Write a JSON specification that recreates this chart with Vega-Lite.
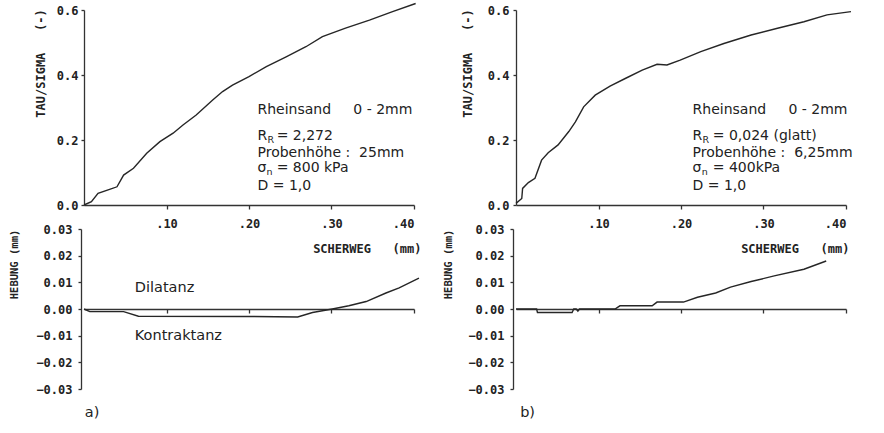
{
  "$schema": "https://vega.github.io/schema/vega-lite/v6.json",
  "background": "white",
  "padding": {"left": 9, "top": 0, "right": 0, "bottom": 0},
  "datasets": {
    "curveA_top": [
      {"s": 0, "t": 0}, {"s": 0.009, "t": 0.01}, {"s": 0.017, "t": 0.036}, {"s": 0.031, "t": 0.048},
      {"s": 0.040, "t": 0.056}, {"s": 0.048, "t": 0.092}, {"s": 0.060, "t": 0.113}, {"s": 0.076, "t": 0.159},
      {"s": 0.092, "t": 0.195}, {"s": 0.108, "t": 0.221}, {"s": 0.120, "t": 0.246}, {"s": 0.136, "t": 0.277},
      {"s": 0.156, "t": 0.323}, {"s": 0.168, "t": 0.349}, {"s": 0.180, "t": 0.369}, {"s": 0.200, "t": 0.395},
      {"s": 0.221, "t": 0.426}, {"s": 0.245, "t": 0.456}, {"s": 0.269, "t": 0.487}, {"s": 0.289, "t": 0.518},
      {"s": 0.317, "t": 0.544}, {"s": 0.346, "t": 0.569}, {"s": 0.374, "t": 0.595}, {"s": 0.402, "t": 0.620}
    ],
    "curveB_top": [
      {"s": 0, "t": 0.005}, {"s": 0.007, "t": 0.02}, {"s": 0.008, "t": 0.051}, {"s": 0.015, "t": 0.069},
      {"s": 0.023, "t": 0.082}, {"s": 0.031, "t": 0.138}, {"s": 0.039, "t": 0.161}, {"s": 0.051, "t": 0.185},
      {"s": 0.064, "t": 0.226}, {"s": 0.072, "t": 0.256}, {"s": 0.082, "t": 0.302}, {"s": 0.096, "t": 0.338},
      {"s": 0.114, "t": 0.366}, {"s": 0.133, "t": 0.390}, {"s": 0.153, "t": 0.415}, {"s": 0.171, "t": 0.433},
      {"s": 0.183, "t": 0.431}, {"s": 0.199, "t": 0.446}, {"s": 0.224, "t": 0.472}, {"s": 0.252, "t": 0.497},
      {"s": 0.285, "t": 0.523}, {"s": 0.317, "t": 0.544}, {"s": 0.349, "t": 0.564}, {"s": 0.377, "t": 0.585},
      {"s": 0.406, "t": 0.595}
    ],
    "curveA_bot": [
      {"s": 0, "t": 0}, {"s": 0.007, "t": -0.001}, {"s": 0.048, "t": -0.001}, {"s": 0.066, "t": -0.0027},
      {"s": 0.197, "t": -0.0028}, {"s": 0.259, "t": -0.003}, {"s": 0.277, "t": -0.0013}, {"s": 0.301, "t": 0},
      {"s": 0.321, "t": 0.0012}, {"s": 0.342, "t": 0.0028}, {"s": 0.366, "t": 0.006}, {"s": 0.382, "t": 0.0079},
      {"s": 0.406, "t": 0.0116}
    ],
    "curveB_bot": [
      {"s": 0, "t": 0}, {"s": 0.025, "t": 0}, {"s": 0.026, "t": -0.0013}, {"s": 0.068, "t": -0.0013},
      {"s": 0.070, "t": 0}, {"s": 0.073, "t": 0}, {"s": 0.075, "t": -0.0008}, {"s": 0.077, "t": 0},
      {"s": 0.120, "t": 0}, {"s": 0.126, "t": 0.0012}, {"s": 0.165, "t": 0.0012}, {"s": 0.171, "t": 0.0026},
      {"s": 0.203, "t": 0.0026}, {"s": 0.220, "t": 0.0044}, {"s": 0.242, "t": 0.006}, {"s": 0.260, "t": 0.0082},
      {"s": 0.285, "t": 0.0103}, {"s": 0.313, "t": 0.0124}, {"s": 0.349, "t": 0.0149}, {"s": 0.376, "t": 0.018}
    ],
    "notes": [
      {"panel": "A_top", "part": "main", "s": 0.2103, "t": 0.292, "text": "Rheinsand\u00a0\u00a0\u00a0\u00a0\u00a00 - 2mm"},
      {"panel": "A_top", "part": "main", "s": 0.2103, "t": 0.211, "text": "R"},
      {"panel": "A_top", "part": "sub", "s": 0.2225, "t": 0.199, "text": "R"},
      {"panel": "A_top", "part": "main", "s": 0.2335, "t": 0.211, "text": "= 2,272"},
      {"panel": "A_top", "part": "main", "s": 0.2103, "t": 0.160, "text": "Probenhöhe :\u00a0\u00a025mm"},
      {"panel": "A_top", "part": "main", "s": 0.2103, "t": 0.113, "text": "σ"},
      {"panel": "A_top", "part": "sub", "s": 0.2212, "t": 0.101, "text": "n"},
      {"panel": "A_top", "part": "main", "s": 0.2335, "t": 0.113, "text": "= 800 kPa"},
      {"panel": "A_top", "part": "main", "s": 0.2103, "t": 0.060, "text": "D = 1,0"},
      {"panel": "B_top", "part": "main", "s": 0.214, "t": 0.292, "text": "Rheinsand\u00a0\u00a0\u00a0\u00a0\u00a00 - 2mm"},
      {"panel": "B_top", "part": "main", "s": 0.214, "t": 0.211, "text": "R"},
      {"panel": "B_top", "part": "sub", "s": 0.2262, "t": 0.199, "text": "R"},
      {"panel": "B_top", "part": "main", "s": 0.2385, "t": 0.211, "text": "= 0,024 (glatt)"},
      {"panel": "B_top", "part": "main", "s": 0.214, "t": 0.160, "text": "Probenhöhe :\u00a0\u00a06,25mm"},
      {"panel": "B_top", "part": "main", "s": 0.214, "t": 0.113, "text": "σ"},
      {"panel": "B_top", "part": "sub", "s": 0.225, "t": 0.101, "text": "n"},
      {"panel": "B_top", "part": "main", "s": 0.2385, "t": 0.113, "text": "= 400kPa"},
      {"panel": "B_top", "part": "main", "s": 0.214, "t": 0.060, "text": "D = 1,0"},
      {"panel": "A_bot", "part": "main", "s": 0.0616, "t": 0.0079, "text": "Dilatanz"},
      {"panel": "A_bot", "part": "main", "s": 0.0616, "t": -0.0101, "text": "Kontraktanz"},
      {"panel": "A_bot", "part": "main", "s": 0.001, "t": -0.039, "text": "a)"},
      {"panel": "B_bot", "part": "main", "s": 0.005, "t": -0.039, "text": "b)"}
    ]
  },
  "columns": 2,
  "spacing": {"row": 24, "column": 102},
  "bounds": "flush",
  "concat": [
    {
      "width": 330, "height": 195,
      "encoding": {
        "x": {"field": "s", "type": "quantitative", "scale": {"domain": [0, 0.4], "nice": false},
          "axis": {"values": [0.1, 0.2, 0.3, 0.4], "labelExpr": "replace(format(datum.value, '.2f'), '0.', '.')", "tickSize": 4, "labelPadding": 9, "labelBaseline": "top",
            "title": "SCHERWEG\u00a0\u00a0\u00a0(mm)", "titleX": 337, "titleY": 43, "titleAlign": "right", "titleBaseline": "middle"}},
        "y": {"field": "t", "type": "quantitative", "scale": {"domain": [0, 0.6], "nice": false},
          "axis": {"values": [0, 0.2, 0.4, 0.6], "format": ".1f", "tickSize": 3, "labelPadding": 3,
            "title": "TAU/SIGMA\u00a0\u00a0\u00a0(-)", "titleX": -44, "titleY": 53, "titleAlign": "center", "titleBaseline": "middle", "titleAngle": 270}}
      },
      "layer": [
        {"data": {"name": "curveA_top"}, "mark": {"type": "line", "color": "#262626", "strokeWidth": 1.4}, "encoding": {}},
        {"data": {"name": "notes"}, "transform": [{"filter": "datum.panel == 'A_top' && datum.part == 'main'"}],
          "mark": {"type": "text", "align": "left", "baseline": "middle", "font": "DejaVu Sans", "fontSize": 14, "color": "#222"},
          "encoding": {"text": {"field": "text"}}},
        {"data": {"name": "notes"}, "transform": [{"filter": "datum.panel == 'A_top' && datum.part == 'sub'"}],
          "mark": {"type": "text", "align": "left", "baseline": "middle", "font": "DejaVu Sans", "fontSize": 9.5, "color": "#222"},
          "encoding": {"text": {"field": "text"}}}
      ]
    },
    {
      "width": 330, "height": 195,
      "encoding": {
        "x": {"field": "s", "type": "quantitative", "scale": {"domain": [0, 0.4], "nice": false},
          "axis": {"values": [0.1, 0.2, 0.3, 0.4], "labelExpr": "replace(format(datum.value, '.2f'), '0.', '.')", "tickSize": 4, "labelPadding": 9, "labelBaseline": "top",
            "title": "SCHERWEG\u00a0\u00a0\u00a0(mm)", "titleX": 333, "titleY": 43, "titleAlign": "right", "titleBaseline": "middle"}},
        "y": {"field": "t", "type": "quantitative", "scale": {"domain": [0, 0.6], "nice": false},
          "axis": {"values": [0, 0.2, 0.4, 0.6], "format": ".1f", "tickSize": 3, "labelPadding": 4,
            "title": "TAU/SIGMA\u00a0\u00a0\u00a0(-)", "titleX": -49, "titleY": 53, "titleAlign": "center", "titleBaseline": "middle", "titleAngle": 270}}
      },
      "layer": [
        {"data": {"name": "curveB_top"}, "mark": {"type": "line", "color": "#262626", "strokeWidth": 1.4}, "encoding": {}},
        {"data": {"name": "notes"}, "transform": [{"filter": "datum.panel == 'B_top' && datum.part == 'main'"}],
          "mark": {"type": "text", "align": "left", "baseline": "middle", "font": "DejaVu Sans", "fontSize": 14, "color": "#222"},
          "encoding": {"text": {"field": "text"}}},
        {"data": {"name": "notes"}, "transform": [{"filter": "datum.panel == 'B_top' && datum.part == 'sub'"}],
          "mark": {"type": "text", "align": "left", "baseline": "middle", "font": "DejaVu Sans", "fontSize": 9.5, "color": "#222"},
          "encoding": {"text": {"field": "text"}}}
      ]
    },
    {
      "width": 330, "height": 160,
      "encoding": {
        "x": {"field": "s", "type": "quantitative", "scale": {"domain": [0, 0.4], "nice": false},
          "axis": {"values": [0.1, 0.2, 0.3, 0.4], "labels": false, "title": null, "tickSize": 4, "offset": -80}},
        "y": {"field": "t", "type": "quantitative", "scale": {"domain": [-0.03, 0.03], "nice": false},
          "axis": {"values": [-0.03, -0.02, -0.01, 0, 0.01, 0.02, 0.03], "format": ".2f", "tickSize": 3, "labelPadding": 6, "offset": 3,
            "title": "HEBUNG (mm)", "titleFontSize": 10.5, "titleX": -67, "titleY": 35, "titleAlign": "center", "titleBaseline": "middle", "titleAngle": 270}}
      },
      "layer": [
        {"data": {"name": "curveA_bot"}, "mark": {"type": "line", "color": "#262626", "strokeWidth": 1.4}, "encoding": {}},
        {"data": {"name": "notes"}, "transform": [{"filter": "datum.panel == 'A_bot'"}],
          "mark": {"type": "text", "align": "left", "baseline": "middle", "font": "DejaVu Sans", "fontSize": 14.5, "color": "#222"},
          "encoding": {"text": {"field": "text"}}}
      ]
    },
    {
      "width": 330, "height": 160,
      "encoding": {
        "x": {"field": "s", "type": "quantitative", "scale": {"domain": [0, 0.4], "nice": false},
          "axis": {"values": [0.1, 0.2, 0.3, 0.4], "labels": false, "title": null, "tickSize": 4, "offset": -80}},
        "y": {"field": "t", "type": "quantitative", "scale": {"domain": [-0.03, 0.03], "nice": false},
          "axis": {"values": [-0.03, -0.02, -0.01, 0, 0.01, 0.02, 0.03], "format": ".2f", "tickSize": 3, "labelPadding": 6, "offset": 3,
            "title": "HEBUNG (mm)", "titleFontSize": 10.5, "titleX": -65, "titleY": 35, "titleAlign": "center", "titleBaseline": "middle", "titleAngle": 270}}
      },
      "layer": [
        {"data": {"name": "curveB_bot"}, "mark": {"type": "line", "color": "#262626", "strokeWidth": 1.4}, "encoding": {}},
        {"data": {"name": "notes"}, "transform": [{"filter": "datum.panel == 'B_bot'"}],
          "mark": {"type": "text", "align": "left", "baseline": "middle", "font": "DejaVu Sans", "fontSize": 14.5, "color": "#222"},
          "encoding": {"text": {"field": "text"}}}
      ]
    }
  ],
  "config": {
    "view": {"stroke": null},
    "axis": {"grid": false, "domainColor": "#333", "tickColor": "#333", "domainWidth": 1.3, "tickWidth": 1.3,
      "labelFont": "DejaVu Sans Mono", "labelFontWeight": "bold", "labelFontSize": 12, "labelColor": "#222",
      "titleFont": "DejaVu Sans Mono", "titleFontWeight": "bold", "titleFontSize": 12, "titleColor": "#222"}
  }
}
